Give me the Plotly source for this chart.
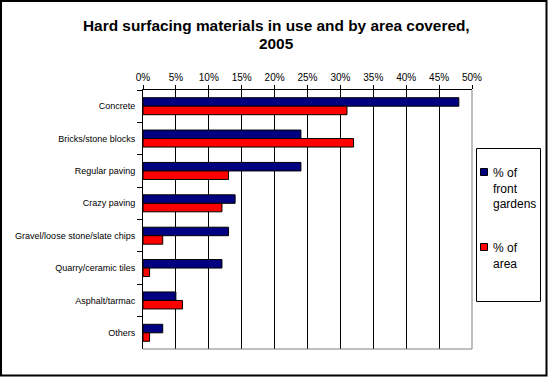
import plotly.graph_objects as go

categories = ["Concrete", "Bricks/stone blocks", "Regular paving", "Crazy paving",
              "Gravel/loose stone/slate chips", "Quarry/ceramic tiles", "Asphalt/tarmac", "Others"]
front_gardens = [48, 24, 24, 14, 13, 12, 5, 3]
area = [31, 32, 13, 12, 3, 1, 6, 1]
series_names = ["% of<br>front<br>gardens", "% of<br>area"]
series_colors = ["#000080", "#FF0000"]
title_lines = ["Hard surfacing materials in use and by area covered,", "2005"]

W, H = 548, 377
L, R, T, B = 143, 76, 90, 28
pw, ph = W - L - R, H - T - B


def px_x(x):
    return (x - L) / pw


def px_y(y):
    return (H - B - y) / ph


fig = go.Figure()
for vals, name, col in zip([front_gardens, area], series_names, series_colors):
    fig.add_trace(go.Bar(y=categories, x=vals, orientation="h", name=name,
                         marker=dict(color=col, line=dict(color="black", width=1)),
                         showlegend=False))

shapes = [
    # outer border
    dict(type="rect", xref="paper", yref="paper", x0=px_x(1), x1=px_x(546.5),
         y0=px_y(375.5), y1=px_y(1), line=dict(color="black", width=2), layer="above"),
    # plot area right and bottom gray border
    dict(type="line", xref="paper", yref="paper", x0=1, x1=1, y0=0, y1=1,
         line=dict(color="#808080", width=1)),
    dict(type="line", xref="paper", yref="paper", x0=0, x1=1, y0=0, y1=0,
         line=dict(color="#808080", width=1)),
    # legend box
    dict(type="rect", xref="paper", yref="paper", x0=px_x(476.5), x1=px_x(540.5),
         y0=px_y(301.5), y1=px_y(148.5), line=dict(color="black", width=1),
         fillcolor="white"),
]

annotations = []
for line, cy in zip(title_lines, [25, 43.5]):
    annotations.append(dict(text="<b>" + line + "</b>", xref="paper", yref="paper",
                            x=px_x(276.5), y=px_y(cy), xanchor="center", yanchor="middle",
                            showarrow=False, font=dict(size=15.4)))

legend_marker_y = [172, 247]
for i, (name, col) in enumerate(zip(series_names, series_colors)):
    cy = legend_marker_y[i]
    shapes.append(dict(type="rect", xref="paper", yref="paper",
                       x0=px_x(480.5), x1=px_x(487.5), y0=px_y(cy + 3.5), y1=px_y(cy - 3.5),
                       line=dict(color="black", width=1), fillcolor=col))
    annotations.append(dict(text=name, xref="paper", yref="paper", x=px_x(491),
                            y=px_y(cy - 8.5), xanchor="left", yanchor="top", align="left",
                            showarrow=False, font=dict(size=12)))

fig.update_layout(
    width=W, height=H,
    margin=dict(l=L, r=R, t=T, b=B),
    paper_bgcolor="white", plot_bgcolor="white",
    barmode="group", bargap=0.475, bargroupgap=0,
    showlegend=False,
    font=dict(family="Liberation Sans, Arial, sans-serif", color="black", size=11),
    xaxis=dict(side="top", range=[0, 50], dtick=5, ticksuffix="%", showgrid=True,
               gridcolor="black", gridwidth=1, showline=True, linecolor="black",
               ticks="outside", ticklen=4, tickcolor="black", zeroline=False,
               tickfont=dict(size=10), automargin=False, fixedrange=True),
    yaxis=dict(autorange="reversed", showline=True, linecolor="black", ticks="outside",
               tickson="boundaries", ticklen=5, tickcolor="black", tickfont=dict(size=9),
               ticklabelstandoff=5, automargin=False, fixedrange=True),
    shapes=shapes,
    annotations=annotations,
)

fig.write_html("out.html", config={"displayModeBar": False},
               post_script="document.body.style.margin='0';document.body.style.overflow='hidden';")
